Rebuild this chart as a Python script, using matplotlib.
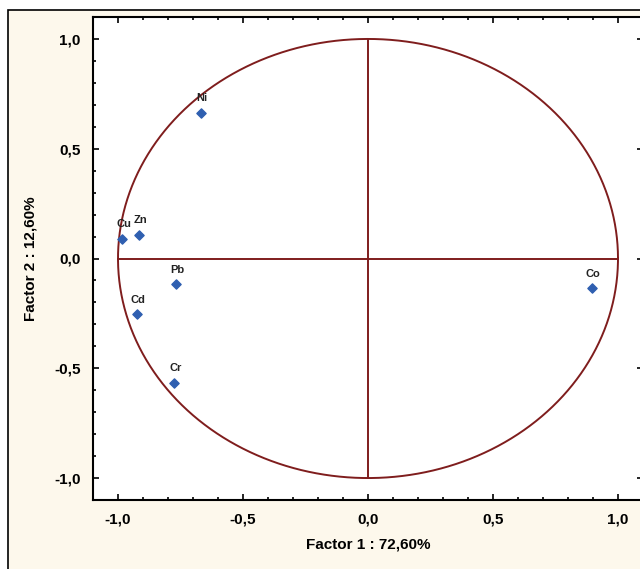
import numpy as np
import matplotlib.pyplot as plt
from matplotlib.ticker import MultipleLocator, FuncFormatter
from matplotlib.patches import Rectangle

plt.rcParams['font.family'] = ['Liberation Sans', 'DejaVu Sans']

# factor loadings
elements = ['Ni', 'Cu', 'Zn', 'Pb', 'Cd', 'Cr', 'Co']
factor1 = [-0.669, -0.983, -0.915, -0.767, -0.924, -0.776, 0.895]
factor2 = [0.665, 0.090, 0.107, -0.118, -0.254, -0.568, -0.136]

bg = '#fdf8ec'
red = '#7f1d1d'
blue = '#2f5fb0'

fig = plt.figure(figsize=(6.4, 5.69), dpi=100, facecolor='white')
# cream panel with black frame at left / top
frame = Rectangle((8 / 640, -0.1), 1.2, (569 - 10) / 569 + 0.1,
                  transform=fig.transFigure, facecolor=bg,
                  edgecolor='black', linewidth=1.2, zorder=-5)
fig.add_artist(frame)

ax = fig.add_axes([93 / 640, 69 / 569, 550 / 640, 483 / 569])
ax.set_facecolor('white')

t = np.linspace(0, 2 * np.pi, 400)
ax.plot(np.cos(t), np.sin(t), color=red, lw=1.4, zorder=2)
ax.plot([-1, 1], [0, 0], color=red, lw=1.4, zorder=2)
ax.plot([0, 0], [-1, 1], color=red, lw=1.4, zorder=2)

ax.scatter(factor1, factor2, marker='D', s=22, color=blue, zorder=3)
for name, x, y in zip(elements, factor1, factor2):
    ax.annotate(name, (x, y), xytext=(1, 7), textcoords='offset points',
                ha='center', va='bottom', fontsize=8, fontweight='bold',
                color='#222222', zorder=4)

ax.set_xlim(-1.1, 1.1)
ax.set_ylim(-1.1, 1.1)
ax.xaxis.set_major_locator(MultipleLocator(0.5))
ax.yaxis.set_major_locator(MultipleLocator(0.5))
ax.xaxis.set_minor_locator(MultipleLocator(0.1))
ax.yaxis.set_minor_locator(MultipleLocator(0.1))
fmt = FuncFormatter(lambda v, p: ('%.1f' % v).replace('.', ',').replace('-0,0', '0,0'))
ax.xaxis.set_major_formatter(fmt)
ax.yaxis.set_major_formatter(fmt)
ax.tick_params(which='both', direction='in', top=True, right=True, width=1.2)
ax.tick_params(which='major', length=4, labelsize=11, pad=9)
ax.tick_params(which='minor', length=2.5)
for lab in ax.get_xticklabels() + ax.get_yticklabels():
    lab.set_fontweight('bold')
for s in ax.spines.values():
    s.set_linewidth(1.5)

ax.set_xlabel('Factor 1 : 72,60%', fontsize=11, fontweight='bold', labelpad=8)
ax.set_ylabel('Factor 2 : 12,60%', fontsize=11, fontweight='bold', labelpad=12)

fig.savefig('out.png', dpi=100, facecolor=fig.get_facecolor())
